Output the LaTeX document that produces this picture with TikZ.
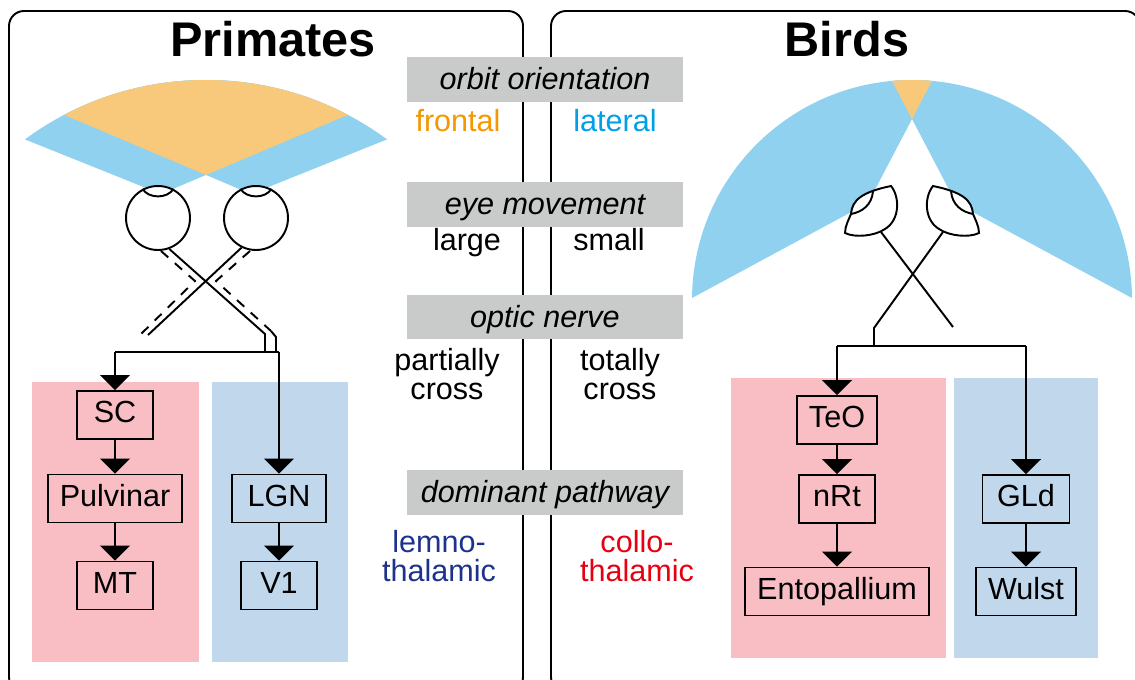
\documentclass[tikz,border=0pt]{standalone}
\usepackage{fontspec}
\setmainfont{Liberation Sans}
\usepackage{tikz}
\usetikzlibrary{arrows.meta}
\definecolor{binoc}{RGB}{248,201,122}
\definecolor{monoc}{RGB}{143,209,239}
\definecolor{collobg}{RGB}{248,190,196}
\definecolor{lemnobg}{RGB}{193,216,236}
\definecolor{topicgray}{RGB}{201,202,202}
\definecolor{frontalc}{RGB}{243,152,0}
\definecolor{lateralc}{RGB}{0,160,233}
\definecolor{lemnoc}{RGB}{29,50,140}
\definecolor{colloc}{RGB}{230,0,18}

\begin{document}
\begin{tikzpicture}[x=0.02cm,y=-0.02cm,line width=1.1pt,
                    >={Triangle[width=17pt,length=8.5pt]},
                    font=\fontsize{17.4}{16.2}\selectfont]
\tikzstyle{area}=[draw,rounded corners=0.3cm]
\tikzstyle{title}=[anchor=base,font=\fontsize{27.7}{30}\selectfont\bfseries]
\tikzstyle{topic}=[fill=topicgray,minimum width=5.52cm,minimum height=0.9cm,
                   text height=13pt,text depth=1.6pt,
                   font=\fontsize{17.4}{16.2}\selectfont\itshape]
\tikzstyle{trait}=[anchor=base]
\tikzstyle{pair}=[align=center]
\tikzstyle{region}=[draw,minimum width=1.52cm,minimum height=0.96cm,
                    inner xsep=6.8pt,text height=12.5pt,text depth=3.5pt]
\tikzstyle{eye}=[draw,fill=white,circle,minimum size=1.28cm,inner sep=0pt]
\tikzstyle{uncrossed}=[dash pattern=on 5.5pt off 5pt]

\useasboundingbox (0,0) rectangle (1135,679);
\clip (0,0) rectangle (1135,679);

\draw[area] (9,11) rectangle (523,692);
\draw[area] (551,11) rectangle (1140,692);

\node[title] (primates) at (273,57) {Primates};
\node[title] (birds) at (847,57) {Birds};

% primate visual fields
\begin{scope}
\clip (206,385.6) circle[radius=305.6];
\fill[monoc] (161,194) -- (-250,29) -- (-250,-400) -- (728,-400) -- (728,-46) -- cycle;
\fill[monoc] (251,194) -- (662,29) -- (662,-400) -- (-316,-400) -- (-316,-46) -- cycle;
\clip (161,194) -- (-250,29) -- (-250,-400) -- (728,-400) -- (728,-46) -- cycle;
\fill[binoc] (251,194) -- (662,29) -- (662,-400) -- (-316,-400) -- (-316,-46) -- cycle;
\end{scope}

% bird visual fields
\begin{scope}
\clip (912,300) circle[radius=220];
\fill[monoc] (868,203) -- (516,393) -- (516,-300) -- (1088,-300) -- (1088,-217) -- cycle;
\fill[monoc] (956,203) -- (1308,393) -- (1308,-300) -- (736,-300) -- (736,-217) -- cycle;
\clip (868,203) -- (516,393) -- (516,-300) -- (1088,-300) -- (1088,-217) -- cycle;
\fill[binoc] (956,203) -- (1308,393) -- (1308,-300) -- (736,-300) -- (736,-217) -- cycle;
\end{scope}

\fill[collobg] (32,382) rectangle (199,662);
\fill[lemnobg] (212,382) rectangle (348,662);
\fill[collobg] (731,378) rectangle (946,658);
\fill[lemnobg] (954,378) rectangle (1098,658);

\node[region] (SC) at (115,415) {SC};
\node[region] (Pulvinar) at (115,498.5) {Pulvinar};
\node[region] (MT) at (115,585.5) {MT};
\node[region,minimum width=1.88cm] (LGN) at (279,498.5) {LGN};
\node[region] (V1) at (279,585.5) {V1};

\node[region] (TeO) at (837,420) {TeO};
\node[region] (nRt) at (837,499) {nRt};
\node[region] (Entopallium) at (837,591.5) {Entopallium};
\node[region,minimum width=1.74cm] (GLd) at (1026,499) {GLd};
\node[region] (Wulst) at (1026,591.5) {Wulst};

% optic nerves, primates
\coordinate (pbusL) at (115,352);
\coordinate (pbusR) at (279,352);
\coordinate (pkinkL) at (265,334);
\coordinate (pjoinL) at (265,352);
\coordinate (pendR) at (148,335);
\coordinate (pdashL) at (161,251);
\coordinate (pbendL) at (195,281);
\coordinate (pendL) at (139,336);
\coordinate (pdashR) at (250,251);
\coordinate (pbendR) at (216,281);
\coordinate (pkinkR) at (271,331);
\coordinate (pstepR) at (276,337);
\coordinate (pjoinR) at (276,352);

\node[eye] (eyeL) at (158,218) {};
\node[eye] (eyeR) at (256,218) {};
\draw (eyeL.118) .. controls +(6,10) and +(-6,10) .. (eyeL.62);
\draw (eyeR.118) .. controls +(6,10) and +(-6,10) .. (eyeR.62);

\draw (eyeL.-70) -- (pkinkL) -- (pjoinL);
\draw (eyeR.-116) -- (pendR);
\draw[uncrossed] (pdashL) -- (pbendL) -- (pendL);
\draw[uncrossed] (pdashR) -- (pbendR) -- (pkinkR);
\draw (pkinkR) -- (pstepR) -- (pjoinR);
\draw (pbusL) -- (pbusR);
\draw[->] (pbusL) -- (SC);
\draw[->] (pbusR) -- (LGN);

% optic nerves, birds
\coordinate (beyeL) at (881,232);
\coordinate (beyeR) at (943,232);
\coordinate (bendL) at (953,327);
\coordinate (bkinkR) at (874,328);
\coordinate (bjoinR) at (874,346);
\coordinate (bbusL) at (837,346);
\coordinate (bbusR) at (1026,346);

\draw (beyeL) -- (bendL);
\draw (beyeR) -- (bkinkR) -- (bjoinR);
\draw (bbusL) -- (bbusR);
\draw[->] (bbusL) -- (TeO);
\draw[->] (bbusR) -- (GLd);

\draw[fill=white] (891,186) .. controls (900,197) and (900,220) .. (885,229)
  .. controls (875,236) and (855,238) .. (845,233)
  .. controls (845,226) and (849,219) .. (851,214)
  .. controls (852,200) and (862,192) .. (891,186) -- cycle;
\draw (873,191) .. controls (872,205) and (862,212) .. (851,214);
\begin{scope}[shift={(1824,0)},xscale=-1]
\draw[fill=white] (891,186) .. controls (900,197) and (900,220) .. (885,229)
  .. controls (875,236) and (855,238) .. (845,233)
  .. controls (845,226) and (849,219) .. (851,214)
  .. controls (852,200) and (862,192) .. (891,186) -- cycle;
\draw (873,191) .. controls (872,205) and (862,212) .. (851,214);
\end{scope}

\path[->] (SC) edge (Pulvinar)
          (Pulvinar) edge (MT)
          (LGN) edge (V1)
          (TeO) edge (nRt)
          (nRt) edge (Entopallium)
          (GLd) edge (Wulst);

\node[topic] (orbit) at (545,79.5) {orbit orientation};
\node[trait,text=frontalc] (frontal) at (458,132) {frontal};
\node[trait,text=lateralc] (lateral) at (615,132) {lateral};
\node[topic] (movement) at (545,204.5) {eye movement};
\node[trait] (large) at (467,250) {large};
\node[trait] (small) at (609,250) {small};
\node[topic] (nerve) at (545,317) {optic nerve};
\node[pair] (partial) at (447,374) {partially\\cross};
\node[pair] (total) at (620,374) {totally\\cross};
\node[topic] (pathway) at (545,492.5) {dominant pathway};
\node[pair,text=lemnoc] (lemno) at (439,556) {lemno-\\thalamic};
\node[pair,text=colloc] (collo) at (637,556) {collo-\\thalamic};
\end{tikzpicture}
\end{document}
